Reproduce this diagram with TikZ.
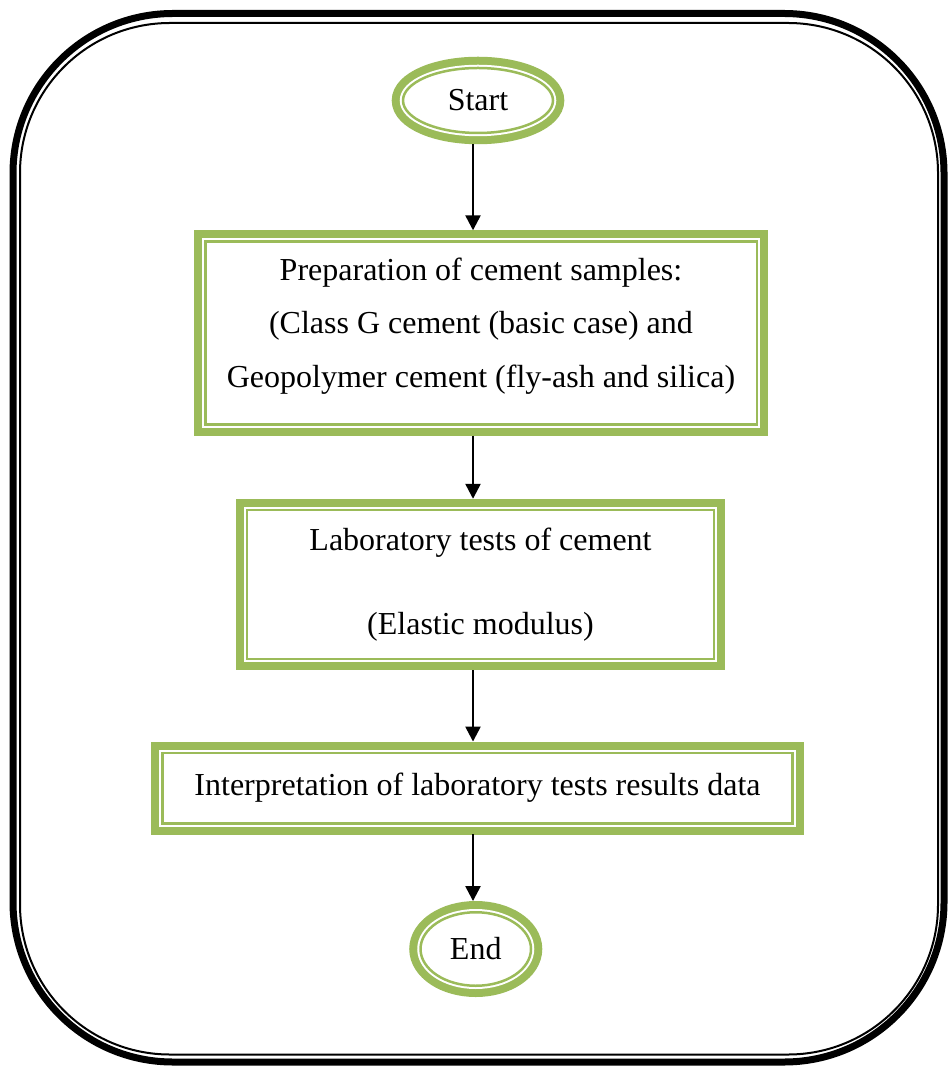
\documentclass[tikz,border=0pt]{standalone}
\usepackage{fontspec}
\setmainfont{Liberation Serif}
\usetikzlibrary{shapes.geometric,arrows.meta}
\definecolor{leaf}{HTML}{9BBB59}
\begin{document}
\begin{tikzpicture}[
x=0.5pt, y=-0.5pt,
ring/.style={draw=leaf, line width=1.25pt, fill=white, inner sep=0pt, outer sep=5.6pt,
  font=\fontsize{16}{26.75}\selectfont, align=center,
  preaction={draw=leaf, line width=11.25pt},
  preaction={draw=white, line width=3.25pt}},
terminal/.style={ring, ellipse},
stepbox/.style={ring, rectangle},
flow/.style={line width=1.2pt, -{Triangle[width=7.5pt,length=7.5pt]}},
]
\useasboundingbox (0,0) rectangle (947,1068);
% outer frame
\draw[line width=3.5pt, rounded corners=80pt] (13,13.5) rectangle (944,1062);
\draw[line width=1pt, rounded corners=75pt] (20,23) rectangle (938,1054.5);

\node[terminal, minimum width=75pt, minimum height=32.5pt] (start) at (478,100.5) {Start};
\node[stepbox, minimum width=275.75pt, minimum height=91.5pt, text depth=10.5pt] (prep) at (481,333)
  {Preparation of cement samples:\\(Class G cement (basic case) and\\Geopolymer cement (fly-ash and silica)};
\node[stepbox, minimum width=233.5pt, minimum height=74.5pt] (lab) at (480.5,584.5)
  {Laboratory tests of cement\\[15.25pt](Elastic modulus)};
\node[stepbox, minimum width=315pt, minimum height=35.25pt] (interp) at (477.5,788)
  {Interpretation of laboratory tests results data};
\node[terminal, minimum width=55.25pt, minimum height=36.75pt] (end) at (475.75,949) {End};

% arrows
\coordinate (spine) at (473,0);
\draw[flow] (start.south -| spine) -- (prep.north -| spine);
\draw[flow] (prep.south -| spine) -- (lab.north -| spine);
\draw[flow] (lab.south -| spine) -- (interp.north -| spine);
\draw[flow] (interp.south -| spine) -- (end.north -| spine);
\end{tikzpicture}
\end{document}
